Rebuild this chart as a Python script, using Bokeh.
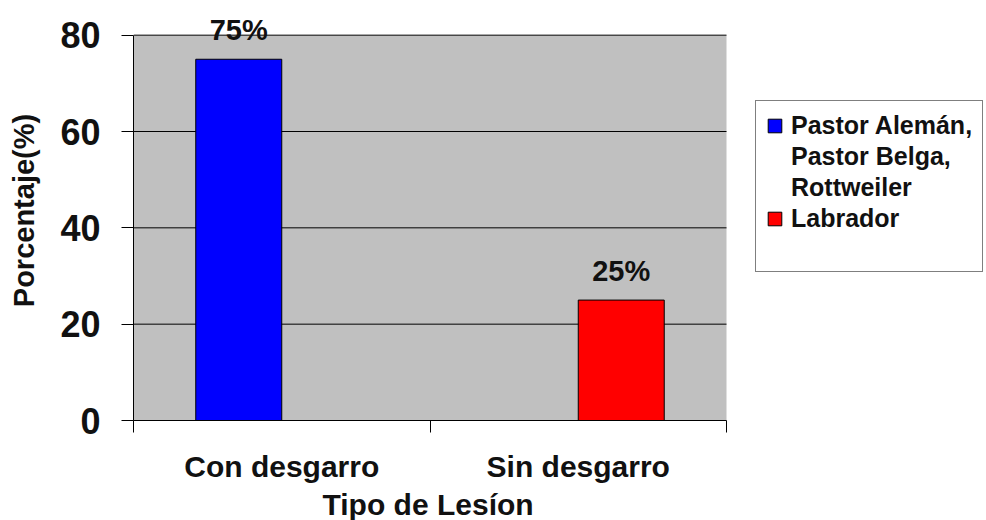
from bokeh.plotting import figure
from bokeh.models import (Range1d, FixedTicker, ColumnDataSource, LabelSet, Legend, LegendItem,
                          BoxAnnotation, Title)
from bokeh.core.properties import value
from bokeh.embed import file_html
from bokeh.resources import INLINE

categories = ["Con desgarro", "Sin desgarro"]
series_names = ["Pastor Alemán,\nPastor Belga,\nRottweiler", "Labrador"]
pastor_values = [75, 0]
labrador_values = [0, 25]
series_colors = ["#0000FF", "#FF0000"]
y_ticks = [0, 20, 40, 60, 80]
y_max = 80
x_title = "Tipo de Lesíon"
y_title = "Porcentaje(%)"

FONT = "Liberation Sans"
TXT = "#111111"
offset = 0.145
bar_w = 0.29
n_cat = len(categories)

W, H = 986, 520
LEFT, BOTTOM = 133, 96
FRAME_W = W - LEFT             # frame spans the chart area plus the legend area
FRAME_H = H - BOTTOM
CAT_PX = 593 / n_cat           # pixels per category
Y_PX = 389 / y_max             # pixels per percent
x_end = FRAME_W / CAT_PX
y_end = FRAME_H / Y_PX

p = figure(width=W, height=H, output_backend="svg", toolbar_location=None,
           x_range=Range1d(0, x_end), y_range=Range1d(0, y_end),
           min_border_left=LEFT, min_border_right=0, min_border_top=0, min_border_bottom=BOTTOM)
p.background_fill_color = "white"
p.border_fill_color = "white"
p.outline_line_color = None
p.xgrid.grid_line_color = None
p.ygrid.grid_line_color = None

# gray plot area: categories 0..n_cat, values 0..y_max
p.add_layout(BoxAnnotation(bottom=0, top=y_max, left=0, right=n_cat,
                           fill_color="#C0C0C0", fill_alpha=1, line_color=None, level="image"))

# horizontal grid lines limited to the plot area
grid_y = [t for t in y_ticks if t > 0]
p.segment(x0=[0] * len(grid_y), x1=[n_cat] * len(grid_y), y0=grid_y, y1=grid_y,
          line_color="black", line_width=1)

renderers = []
all_series = [pastor_values, labrador_values]
for i, (vals, col) in enumerate(zip(all_series, series_colors)):
    xs = [k + 0.5 + (-offset if i == 0 else offset) for k in range(n_cat)]
    src = ColumnDataSource(dict(x=xs, top=vals,
                                lab=[f"{v}%" if v else "" for v in vals]))
    r = p.vbar(x="x", top="top", width=bar_w, source=src, fill_color=col,
               line_color="black", line_width=1)
    renderers.append(r)
    p.add_layout(LabelSet(x="x", y="top", text="lab", source=src, y_offset=19,
                          text_align="center", text_baseline="alphabetic",
                          text_font=value(FONT), text_font_size="29px", text_font_style="bold",
                          text_color=TXT))

# axes
xa = p.xaxis[0]
xa.bounds = (0, n_cat)
xa.ticker = FixedTicker(ticks=[k + 0.5 for k in range(n_cat)],
                        minor_ticks=list(range(n_cat + 1)))
xa.major_label_overrides = {k + 0.5: c for k, c in enumerate(categories)}
xa.major_tick_line_color = None
xa.major_tick_out = 12
xa.major_tick_in = 0
xa.minor_tick_out = 12
xa.minor_tick_in = 0
xa.minor_tick_line_color = "black"
xa.axis_line_color = "black"
xa.major_label_text_font = FONT
xa.major_label_text_font_size = "30px"
xa.major_label_text_font_style = "bold"
xa.major_label_text_color = TXT
xa.major_label_text_line_height = 1.0
xa.major_label_standoff = 17

# x axis title centred under the category area
x_title_w = 215
p.add_layout(Title(text=x_title, align="left", offset=(593 - x_title_w) / 2,
                   text_font=FONT, text_font_size="30px", text_font_style="bold",
                   text_color=TXT, text_line_height=1.0, standoff=0), "below")

ya = p.yaxis[0]
ya.ticker = FixedTicker(ticks=y_ticks)
ya.bounds = (0, y_max)
ya.major_tick_out = 12
ya.major_tick_in = 0
ya.minor_tick_line_color = None
ya.major_tick_line_color = "black"
ya.axis_line_color = "black"
ya.major_label_text_font = FONT
ya.major_label_text_font_size = "36px"
ya.major_label_text_font_style = "bold"
ya.major_label_text_color = TXT
ya.major_label_standoff = 21
ya.axis_label = y_title
ya.axis_label_text_font = FONT
ya.axis_label_text_font_size = "29px"
ya.axis_label_text_font_style = "bold"
ya.axis_label_text_color = TXT
ya.axis_label_standoff = 17

# legend: one entry per series; wrapped lines of a long name follow as glyph-less rows
blank = p.vbar(x=[], top=[], width=bar_w, fill_alpha=0, line_alpha=0)
items = []
for name, r in zip(series_names, renderers):
    lines = name.split("\n")
    items.append(LegendItem(label=lines[0], renderers=[r]))
    for ln in lines[1:]:
        items.append(LegendItem(label=ln, renderers=[blank]))
items.append(LegendItem(label=" ", renderers=[blank]))

legend = Legend(items=items, location=(622, 148))
legend.border_line_color = "black"
legend.border_line_width = 1.5
legend.background_fill_color = "white"
legend.background_fill_alpha = 1
legend.label_text_font = FONT
legend.label_text_font_size = "25px"
legend.label_text_font_style = "bold"
legend.label_text_color = TXT
legend.glyph_width = 17
legend.glyph_height = 17
legend.label_standoff = 8
legend.label_height = 26
legend.padding = 10
legend.spacing = 2
legend.margin = 0
p.add_layout(legend, "center")

open("out.html", "w").write(file_html(p, INLINE))
